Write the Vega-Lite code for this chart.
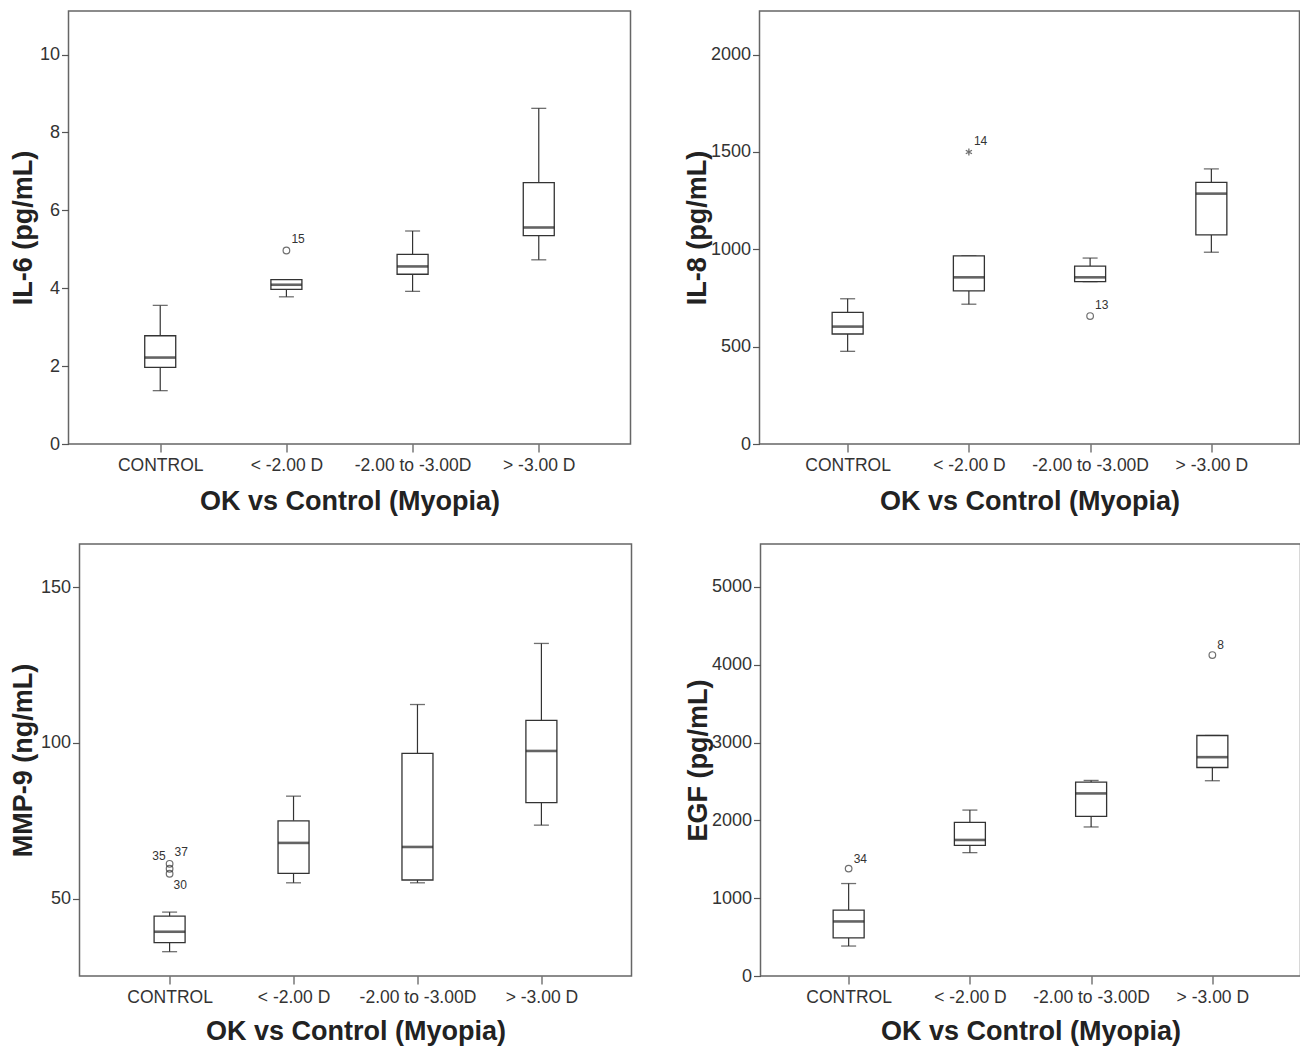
{
  "$schema": "https://vega.github.io/schema/vega-lite/v6.json",
  "background": "white",
  "padding": {"left": 7.5, "top": 10, "right": 0, "bottom": 0},
  "datasets": {
    "il6": [
      {"grp": "CONTROL", "lower": 1.37, "q1": 1.97, "median": 2.22, "q3": 2.78, "upper": 3.56},
      {"grp": "< -2.00 D", "lower": 3.78, "q1": 3.97, "median": 4.09, "q3": 4.22, "upper": 4.22},
      {"grp": "-2.00 to -3.00D", "lower": 3.92, "q1": 4.36, "median": 4.56, "q3": 4.87, "upper": 5.47},
      {"grp": "> -3.00 D", "lower": 4.73, "q1": 5.35, "median": 5.56, "q3": 6.71, "upper": 8.62}
    ],
    "il6_out": [
      {"grp": "< -2.00 D", "value": 4.97, "label": "15", "kind": "outlier"}
    ],
    "il8": [
      {"grp": "CONTROL", "lower": 476, "q1": 565, "median": 603, "q3": 676, "upper": 746},
      {"grp": "< -2.00 D", "lower": 718, "q1": 786, "median": 856, "q3": 966, "upper": 966},
      {"grp": "-2.00 to -3.00D", "lower": 834, "q1": 834, "median": 856, "q3": 914, "upper": 955},
      {"grp": "> -3.00 D", "lower": 985, "q1": 1074, "median": 1286, "q3": 1344, "upper": 1413}
    ],
    "il8_out": [
      {"grp": "< -2.00 D", "value": 1500, "label": "14", "kind": "extreme"},
      {"grp": "-2.00 to -3.00D", "value": 657, "label": "13", "kind": "outlier"}
    ],
    "mmp9": [
      {"grp": "CONTROL", "lower": 33.0, "q1": 35.9, "median": 39.4, "q3": 44.4, "upper": 45.7},
      {"grp": "< -2.00 D", "lower": 55.1, "q1": 58.1, "median": 67.9, "q3": 75.0, "upper": 82.9},
      {"grp": "-2.00 to -3.00D", "lower": 55.1, "q1": 56.0, "median": 66.6, "q3": 96.6, "upper": 112.3},
      {"grp": "> -3.00 D", "lower": 73.6, "q1": 80.8, "median": 97.4, "q3": 107.2, "upper": 131.9}
    ],
    "mmp9_out": [
      {"grp": "CONTROL", "value": 61.2, "label": "35", "kind": "outlier"},
      {"grp": "CONTROL", "value": 59.6, "label": "37", "kind": "outlier"},
      {"grp": "CONTROL", "value": 58.0, "label": "30", "kind": "outlier"}
    ],
    "egf": [
      {"grp": "CONTROL", "lower": 385, "q1": 491, "median": 701, "q3": 846, "upper": 1188},
      {"grp": "< -2.00 D", "lower": 1585, "q1": 1679, "median": 1748, "q3": 1974, "upper": 2132},
      {"grp": "-2.00 to -3.00D", "lower": 1915, "q1": 2051, "median": 2346, "q3": 2491, "upper": 2513},
      {"grp": "> -3.00 D", "lower": 2509, "q1": 2679, "median": 2812, "q3": 3090, "upper": 3090}
    ],
    "egf_out": [
      {"grp": "CONTROL", "value": 1380, "label": "34", "kind": "outlier"},
      {"grp": "> -3.00 D", "value": 4124, "label": "8", "kind": "outlier"}
    ]
  },
  "spacing": 27,
  "vconcat": [
    {
      "spacing": 0,
      "hconcat": [
        {"width": 1, "height": 1, "view": {"stroke": null}, "data": {"values": []}, "mark": "point", "encoding": {}},
        {
          "spacing": 51,
          "hconcat": [
            {
              "width": 562, "height": 433,
              "encoding": {
                "x": {"field": "grp", "type": "nominal", "sort": null,
                  "scale": {"type": "point", "padding": 0.727, "domain": ["CONTROL", "< -2.00 D", "-2.00 to -3.00D", "> -3.00 D"]},
                  "axis": {"title": "OK vs Control (Myopia)", "labelAngle": 0, "tickSize": 8, "labelPadding": 4, "titlePadding": 15}}
              },
              "layer": [
                {"data": {"name": "il6"}, "mark": {"type": "rule", "color": "#333", "strokeWidth": 1.2},
                 "encoding": {"y": {"field": "upper", "type": "quantitative", "title": "IL-6 (pg/mL)",
                   "scale": {"domain": [0, 11.12], "nice": false, "zero": false},
                   "axis": {"values": [0, 2, 4, 6, 8, 10], "format": "d", "tickSize": 7, "labelPadding": 2, "titlePadding": 2, "labelFontSize": 18}},
                   "y2": {"field": "q3"}}},
                {"data": {"name": "il6"}, "mark": {"type": "rule", "color": "#333", "strokeWidth": 1.2},
                 "encoding": {"y": {"field": "q1", "type": "quantitative", "title": "IL-6 (pg/mL)"}, "y2": {"field": "lower"}}},
                {"data": {"name": "il6"}, "mark": {"type": "tick", "color": "#333", "size": 15, "thickness": 1.3},
                 "encoding": {"y": {"field": "upper", "type": "quantitative", "title": "IL-6 (pg/mL)"}}},
                {"data": {"name": "il6"}, "mark": {"type": "tick", "color": "#333", "size": 15, "thickness": 1.3},
                 "encoding": {"y": {"field": "lower", "type": "quantitative", "title": "IL-6 (pg/mL)"}}},
                {"data": {"name": "il6"}, "mark": {"type": "bar", "width": 31, "fill": "white", "stroke": "#333", "strokeWidth": 1.3},
                 "encoding": {"y": {"field": "q1", "type": "quantitative", "title": "IL-6 (pg/mL)"}, "y2": {"field": "q3"}}},
                {"data": {"name": "il6"}, "mark": {"type": "tick", "color": "#222", "size": 31, "thickness": 2.6},
                 "encoding": {"y": {"field": "median", "type": "quantitative", "title": "IL-6 (pg/mL)"}}},
                {"data": {"name": "il6_out"}, "mark": {"type": "point", "shape": "circle", "filled": false, "size": 44, "stroke": "#333", "strokeWidth": 1.2},
                 "encoding": {"y": {"field": "value", "type": "quantitative", "title": "IL-6 (pg/mL)"}}},
                {"data": {"name": "il6_out"}, "mark": {"type": "text", "align": "left", "baseline": "middle", "dx": 5, "dy": -11, "fontSize": 12, "font": "Liberation Sans", "color": "#333"},
                 "encoding": {"y": {"field": "value", "type": "quantitative", "title": "IL-6 (pg/mL)"}, "text": {"field": "label"}}}
              ]
            },
            {
              "width": 540, "height": 433,
              "encoding": {
                "x": {"field": "grp", "type": "nominal", "sort": null,
                  "scale": {"type": "point", "padding": 0.727, "domain": ["CONTROL", "< -2.00 D", "-2.00 to -3.00D", "> -3.00 D"]},
                  "axis": {"title": "OK vs Control (Myopia)", "labelAngle": 0, "tickSize": 8, "labelPadding": 4, "titlePadding": 15}}
              },
              "layer": [
                {"data": {"name": "il8"}, "mark": {"type": "rule", "color": "#333", "strokeWidth": 1.2},
                 "encoding": {"y": {"field": "upper", "type": "quantitative", "title": "IL-8 (pg/mL)",
                   "scale": {"domain": [0, 2224], "nice": false, "zero": false},
                   "axis": {"values": [0, 500, 1000, 1500, 2000], "format": "d", "tickSize": 7, "labelPadding": 2, "titlePadding": -1, "labelFontSize": 18}},
                   "y2": {"field": "q3"}}},
                {"data": {"name": "il8"}, "mark": {"type": "rule", "color": "#333", "strokeWidth": 1.2},
                 "encoding": {"y": {"field": "q1", "type": "quantitative", "title": "IL-8 (pg/mL)"}, "y2": {"field": "lower"}}},
                {"data": {"name": "il8"}, "mark": {"type": "tick", "color": "#333", "size": 15, "thickness": 1.3},
                 "encoding": {"y": {"field": "upper", "type": "quantitative", "title": "IL-8 (pg/mL)"}}},
                {"data": {"name": "il8"}, "mark": {"type": "tick", "color": "#333", "size": 15, "thickness": 1.3},
                 "encoding": {"y": {"field": "lower", "type": "quantitative", "title": "IL-8 (pg/mL)"}}},
                {"data": {"name": "il8"}, "mark": {"type": "bar", "width": 31, "fill": "white", "stroke": "#333", "strokeWidth": 1.3},
                 "encoding": {"y": {"field": "q1", "type": "quantitative", "title": "IL-8 (pg/mL)"}, "y2": {"field": "q3"}}},
                {"data": {"name": "il8"}, "mark": {"type": "tick", "color": "#222", "size": 31, "thickness": 2.6},
                 "encoding": {"y": {"field": "median", "type": "quantitative", "title": "IL-8 (pg/mL)"}}},
                {"data": {"name": "il8_out"}, "transform": [{"filter": "datum.kind === 'outlier'"}],
                 "mark": {"type": "point", "shape": "circle", "filled": false, "size": 44, "stroke": "#333", "strokeWidth": 1.2},
                 "encoding": {"y": {"field": "value", "type": "quantitative", "title": "IL-8 (pg/mL)"}}},
                {"data": {"name": "il8_out"}, "transform": [{"filter": "datum.kind === 'extreme'"}],
                 "mark": {"type": "point", "shape": "M0,-1L0,1M-0.87,-0.5L0.87,0.5M-0.87,0.5L0.87,-0.5", "filled": false, "size": 50, "stroke": "#333", "strokeWidth": 1.3},
                 "encoding": {"y": {"field": "value", "type": "quantitative", "title": "IL-8 (pg/mL)"}}},
                {"data": {"name": "il8_out"}, "mark": {"type": "text", "align": "left", "baseline": "middle", "dx": 5, "dy": -11, "fontSize": 12, "font": "Liberation Sans", "color": "#333"},
                 "encoding": {"y": {"field": "value", "type": "quantitative", "title": "IL-8 (pg/mL)"}, "text": {"field": "label"}}}
              ]
            }
          ]
        }
      ]
    },
    {
      "spacing": 0,
      "hconcat": [
        {"width": 1, "height": 1, "view": {"stroke": null}, "data": {"values": []}, "mark": "point", "encoding": {}},
        {
          "spacing": 51,
          "hconcat": [
            {
              "width": 552, "height": 432,
              "encoding": {
                "x": {"field": "grp", "type": "nominal", "sort": null,
                  "scale": {"type": "point", "padding": 0.727, "domain": ["CONTROL", "< -2.00 D", "-2.00 to -3.00D", "> -3.00 D"]},
                  "axis": {"title": "OK vs Control (Myopia)", "labelAngle": 0, "tickSize": 8, "labelPadding": 4, "titlePadding": 13}}
              },
              "layer": [
                {"data": {"name": "mmp9"}, "mark": {"type": "rule", "color": "#333", "strokeWidth": 1.2},
                 "encoding": {"y": {"field": "upper", "type": "quantitative", "title": "MMP-9 (ng/mL)",
                   "scale": {"domain": [25.2, 163.8], "nice": false, "zero": false},
                   "axis": {"values": [50, 100, 150], "format": "d", "tickSize": 7, "labelPadding": 2, "titlePadding": 2.5, "labelFontSize": 18}},
                   "y2": {"field": "q3"}}},
                {"data": {"name": "mmp9"}, "mark": {"type": "rule", "color": "#333", "strokeWidth": 1.2},
                 "encoding": {"y": {"field": "q1", "type": "quantitative", "title": "MMP-9 (ng/mL)"}, "y2": {"field": "lower"}}},
                {"data": {"name": "mmp9"}, "mark": {"type": "tick", "color": "#333", "size": 15, "thickness": 1.3},
                 "encoding": {"y": {"field": "upper", "type": "quantitative", "title": "MMP-9 (ng/mL)"}}},
                {"data": {"name": "mmp9"}, "mark": {"type": "tick", "color": "#333", "size": 15, "thickness": 1.3},
                 "encoding": {"y": {"field": "lower", "type": "quantitative", "title": "MMP-9 (ng/mL)"}}},
                {"data": {"name": "mmp9"}, "mark": {"type": "bar", "width": 31, "fill": "white", "stroke": "#333", "strokeWidth": 1.3},
                 "encoding": {"y": {"field": "q1", "type": "quantitative", "title": "MMP-9 (ng/mL)"}, "y2": {"field": "q3"}}},
                {"data": {"name": "mmp9"}, "mark": {"type": "tick", "color": "#222", "size": 31, "thickness": 2.6},
                 "encoding": {"y": {"field": "median", "type": "quantitative", "title": "MMP-9 (ng/mL)"}}},
                {"data": {"name": "mmp9_out"}, "mark": {"type": "point", "shape": "circle", "filled": false, "size": 44, "stroke": "#333", "strokeWidth": 1.2},
                 "encoding": {"y": {"field": "value", "type": "quantitative", "title": "MMP-9 (ng/mL)"}}},
                {"data": {"name": "mmp9_out"}, "transform": [{"filter": "datum.label === '35'"}],
                 "mark": {"type": "text", "align": "right", "baseline": "middle", "dx": -4, "dy": -8, "fontSize": 12, "font": "Liberation Sans", "color": "#333"},
                 "encoding": {"y": {"field": "value", "type": "quantitative", "title": "MMP-9 (ng/mL)"}, "text": {"field": "label"}}},
                {"data": {"name": "mmp9_out"}, "transform": [{"filter": "datum.label === '37'"}],
                 "mark": {"type": "text", "align": "left", "baseline": "middle", "dx": 5, "dy": -17, "fontSize": 12, "font": "Liberation Sans", "color": "#333"},
                 "encoding": {"y": {"field": "value", "type": "quantitative", "title": "MMP-9 (ng/mL)"}, "text": {"field": "label"}}},
                {"data": {"name": "mmp9_out"}, "transform": [{"filter": "datum.label === '30'"}],
                 "mark": {"type": "text", "align": "left", "baseline": "middle", "dx": 4, "dy": 11, "fontSize": 12, "font": "Liberation Sans", "color": "#333"},
                 "encoding": {"y": {"field": "value", "type": "quantitative", "title": "MMP-9 (ng/mL)"}, "text": {"field": "label"}}}
              ]
            },
            {
              "width": 540, "height": 432,
              "encoding": {
                "x": {"field": "grp", "type": "nominal", "sort": null,
                  "scale": {"type": "point", "padding": 0.727, "domain": ["CONTROL", "< -2.00 D", "-2.00 to -3.00D", "> -3.00 D"]},
                  "axis": {"title": "OK vs Control (Myopia)", "labelAngle": 0, "tickSize": 8, "labelPadding": 4, "titlePadding": 13}}
              },
              "layer": [
                {"data": {"name": "egf"}, "mark": {"type": "rule", "color": "#333", "strokeWidth": 1.2},
                 "encoding": {"y": {"field": "upper", "type": "quantitative", "title": "EGF (pg/mL)",
                   "scale": {"domain": [0, 5551], "nice": false, "zero": false},
                   "axis": {"values": [0, 1000, 2000, 3000, 4000, 5000], "format": "d", "tickSize": 7, "labelPadding": 2, "titlePadding": -1, "labelFontSize": 18}},
                   "y2": {"field": "q3"}}},
                {"data": {"name": "egf"}, "mark": {"type": "rule", "color": "#333", "strokeWidth": 1.2},
                 "encoding": {"y": {"field": "q1", "type": "quantitative", "title": "EGF (pg/mL)"}, "y2": {"field": "lower"}}},
                {"data": {"name": "egf"}, "mark": {"type": "tick", "color": "#333", "size": 15, "thickness": 1.3},
                 "encoding": {"y": {"field": "upper", "type": "quantitative", "title": "EGF (pg/mL)"}}},
                {"data": {"name": "egf"}, "mark": {"type": "tick", "color": "#333", "size": 15, "thickness": 1.3},
                 "encoding": {"y": {"field": "lower", "type": "quantitative", "title": "EGF (pg/mL)"}}},
                {"data": {"name": "egf"}, "mark": {"type": "bar", "width": 31, "fill": "white", "stroke": "#333", "strokeWidth": 1.3},
                 "encoding": {"y": {"field": "q1", "type": "quantitative", "title": "EGF (pg/mL)"}, "y2": {"field": "q3"}}},
                {"data": {"name": "egf"}, "mark": {"type": "tick", "color": "#222", "size": 31, "thickness": 2.6},
                 "encoding": {"y": {"field": "median", "type": "quantitative", "title": "EGF (pg/mL)"}}},
                {"data": {"name": "egf_out"}, "mark": {"type": "point", "shape": "circle", "filled": false, "size": 44, "stroke": "#333", "strokeWidth": 1.2},
                 "encoding": {"y": {"field": "value", "type": "quantitative", "title": "EGF (pg/mL)"}}},
                {"data": {"name": "egf_out"}, "mark": {"type": "text", "align": "left", "baseline": "middle", "dx": 5, "dy": -10, "fontSize": 12, "font": "Liberation Sans", "color": "#333"},
                 "encoding": {"y": {"field": "value", "type": "quantitative", "title": "EGF (pg/mL)"}, "text": {"field": "label"}}}
              ]
            }
          ]
        }
      ]
    }
  ],
  "config": {
    "view": {"stroke": "#666", "strokeWidth": 1.5},
    "axis": {
      "domain": false, "grid": false,
      "tickColor": "#555", "tickWidth": 1.2,
      "labelFont": "Liberation Sans", "labelFontSize": 17.5, "labelColor": "#333",
      "titleFont": "Liberation Sans", "titleFontSize": 27, "titleFontWeight": "bold", "titleColor": "#222"
    }
  }
}
